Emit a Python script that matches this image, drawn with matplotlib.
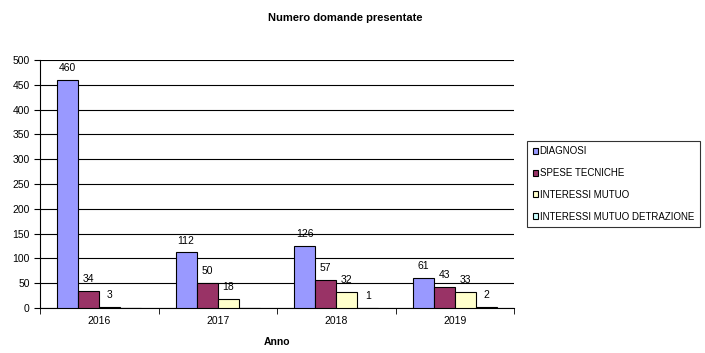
import numpy as np
import matplotlib.pyplot as plt

plt.rcParams['font.family'] = ['Liberation Sans', 'DejaVu Sans']

# Data
anni = ['2016', '2017', '2018', '2019']
serie = ['DIAGNOSI', 'SPESE TECNICHE', 'INTERESSI MUTUO', 'INTERESSI MUTUO DETRAZIONE']
diagnosi = [460, 112, 126, 61]
spese_tecniche = [34, 50, 57, 43]
interessi_mutuo = [3, 18, 32, 33]
interessi_detrazione = [None, None, 1, 2]

valori = [diagnosi, spese_tecniche, interessi_mutuo, interessi_detrazione]
colori = ['#9999FF', '#993366', '#FFFFCC', '#CCFFFF']

fig = plt.figure(figsize=(7.05, 3.53), dpi=100)
ax = fig.add_axes([40 / 705, 1 - 308 / 353, 474 / 705, 248 / 353])

x = np.arange(len(anni))
w = 0.178
for i, (nome, vals, col) in enumerate(zip(serie, valori, colori)):
    pos = x + (i - 1.5) * w
    h = [v if v is not None else 0 for v in vals]
    bars = ax.bar(pos, h, width=w, color=col, edgecolor='black', linewidth=0.8,
                  label=nome, zorder=3)
    for b, v in zip(bars, vals):
        if v is None:
            continue
        ax.annotate(str(v), (b.get_x() + b.get_width() / 2, v),
                    xytext=(0, 5), textcoords='offset points',
                    ha='center', va='bottom', fontsize=7.5)

ax.set_xlim(-0.5, 3.5)
ax.set_ylim(0, 500)
ax.set_yticks(range(0, 501, 50))
ax.yaxis.grid(True, color='black', linewidth=0.8, zorder=0)
ax.set_xticks(x)
ax.set_xticklabels(anni, fontsize=7.5)
ax.set_xticks(np.arange(-0.5, 4, 1), minor=True)
ax.tick_params(axis='x', which='major', length=0, pad=6)
ax.tick_params(axis='x', which='minor', length=4, direction='out')
ax.tick_params(axis='y', labelsize=7.5, length=4, direction='out')
for s in ['top', 'right']:
    ax.spines[s].set_visible(False)

fig.text(345 / 705, 1 - 18 / 353, 'Numero domande presentate', ha='center',
         va='center', fontsize=8, fontweight='bold')
fig.text(277 / 705, 1 - 342 / 353, 'Anno', ha='center', va='center',
         fontsize=7.5, fontweight='bold')

leg = fig.legend(loc='center left', bbox_to_anchor=(527 / 705, 1 - 184 / 353),
                 fontsize=7.0, frameon=True, fancybox=False, edgecolor='black',
                 handlelength=0.55, handleheight=0.55, handletextpad=0.15,
                 labelspacing=1.2, borderpad=0.6, borderaxespad=0)
leg.get_frame().set_linewidth(0.8)

fig.savefig('out.png', dpi=100)
